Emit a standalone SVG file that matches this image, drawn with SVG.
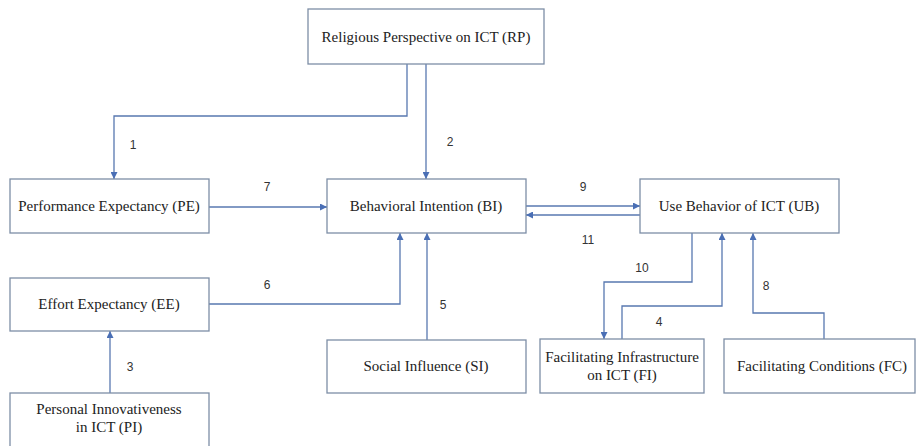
<svg xmlns="http://www.w3.org/2000/svg" width="917" height="446" viewBox="0 0 917 446">
<style>
.box{fill:#fff;stroke:#7d8ea6;stroke-width:1.3}
.t{font-family:"Liberation Serif","Times New Roman",serif;font-size:15px;fill:#222;text-anchor:middle}
.n{font-family:"Liberation Sans",Arial,sans-serif;font-size:12px;fill:#333;text-anchor:middle}
.c{fill:none;stroke:#5878b0;stroke-width:1.3}
</style>
<defs>
<marker id="ah" viewBox="0 0 10 10" refX="10" refY="5" markerWidth="7" markerHeight="7" markerUnits="userSpaceOnUse" orient="auto">
<path d="M0,0 L10,5 L0,10 z" fill="#4a6fb5"/>
</marker>
</defs>
<rect width="917" height="446" fill="#fff"/>
<g id="connectors">
<path class="c" d="M407,64 V116 H114 V179" marker-end="url(#ah)"/>
<path class="c" d="M426,64 V179" marker-end="url(#ah)"/>
<path class="c" d="M209,207 H327" marker-end="url(#ah)"/>
<path class="c" d="M526,206 H640" marker-end="url(#ah)"/>
<path class="c" d="M640,215 H526" marker-end="url(#ah)"/>
<path class="c" d="M209,304 H400 V233" marker-end="url(#ah)"/>
<path class="c" d="M427,340 V233" marker-end="url(#ah)"/>
<path class="c" d="M110,393 V331" marker-end="url(#ah)"/>
<path class="c" d="M692,233 V282 H604 V339" marker-end="url(#ah)"/>
<path class="c" d="M622,339 V306 H722 V233" marker-end="url(#ah)"/>
<path class="c" d="M824,339 V313 H753 V233" marker-end="url(#ah)"/>
<text class="n" x="133" y="149">1</text>
<text class="n" x="450" y="146">2</text>
<text class="n" x="130" y="371">3</text>
<text class="n" x="659" y="326">4</text>
<text class="n" x="443" y="309">5</text>
<text class="n" x="267" y="289">6</text>
<text class="n" x="267" y="191">7</text>
<text class="n" x="766" y="290">8</text>
<text class="n" x="583" y="191">9</text>
<text class="n" x="588" y="244">11</text>
<text class="n" x="642" y="272">10</text>
</g>
<g id="RP"><rect class="box" x="308" y="9" width="236" height="55"/><text class="t" x="426" y="42">Religious Perspective on ICT (RP)</text></g>
<g id="PE"><rect class="box" x="10" y="179" width="199" height="54"/><text class="t" x="109" y="211">Performance Expectancy (PE)</text></g>
<g id="BI"><rect class="box" x="327" y="179" width="199" height="54"/><text class="t" x="426" y="211">Behavioral Intention (BI)</text></g>
<g id="UB"><rect class="box" x="640" y="179" width="199" height="54"/><text class="t" x="739" y="211">Use Behavior of ICT (UB)</text></g>
<g id="EE"><rect class="box" x="10" y="278" width="199" height="53"/><text class="t" x="109" y="309">Effort Expectancy (EE)</text></g>
<g id="SI"><rect class="box" x="327" y="340" width="199" height="53"/><text class="t" x="426" y="371">Social Influence (SI)</text></g>
<g id="FI"><rect class="box" x="540" y="339" width="164" height="54"/><text class="t" x="622" y="362">Facilitating Infrastructure</text><text class="t" x="622" y="380">on ICT (FI)</text></g>
<g id="FC"><rect class="box" x="724" y="339" width="191" height="54"/><text class="t" x="822" y="371">Facilitating Conditions (FC)</text></g>
<g id="PI"><rect class="box" x="10" y="393" width="199" height="60"/><text class="t" x="109" y="414">Personal Innovativeness</text><text class="t" x="109" y="432">in ICT (PI)</text></g>
</svg>
